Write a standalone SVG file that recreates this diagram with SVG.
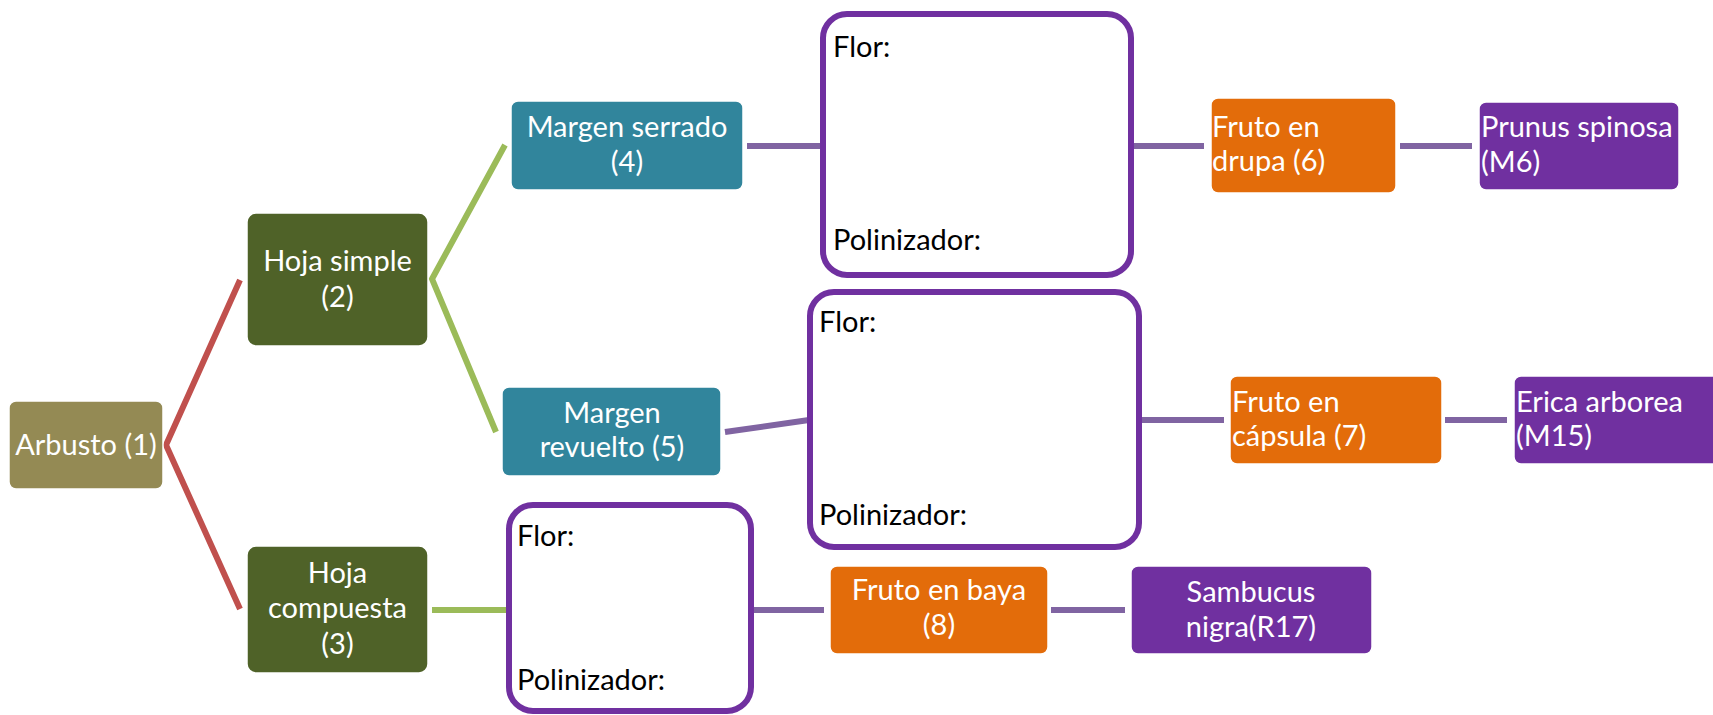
<svg xmlns="http://www.w3.org/2000/svg" width="1713" height="715" viewBox="0 0 1713 715">
<style>
.n{stroke:#ffffff;stroke-width:1.5}
.t{font-family:Lato,"Liberation Sans",sans-serif;font-size:29px;fill:#ffffff}
.c{text-anchor:middle}
.k{font-family:Lato,"Liberation Sans",sans-serif;font-size:29px;fill:#000000}
.ob{fill:#ffffff;stroke:#7030A0;stroke-width:6}
.red{stroke:#C0504D;stroke-width:6;fill:none}
.grn{stroke:#9BBB59;stroke-width:6;fill:none}
.pur{stroke:#8064A2;stroke-width:6;fill:none}
</style>
<rect width="1713" height="715" fill="#ffffff"/>
<g id="connectors">
<polyline class="red" points="240,280 166,445 240,609"/>
<polyline class="grn" points="505,145 432,279 496,432"/>
<line class="grn" x1="432" y1="610" x2="508" y2="610"/>
<line class="pur" x1="747" y1="146" x2="822" y2="146"/>
<line class="pur" x1="1132" y1="146" x2="1204" y2="146"/>
<line class="pur" x1="1400" y1="146" x2="1472" y2="146"/>
<line class="pur" x1="725" y1="432" x2="809" y2="420"/>
<line class="pur" x1="1140" y1="420" x2="1224" y2="420"/>
<line class="pur" x1="1445" y1="420" x2="1507" y2="420"/>
<line class="pur" x1="751" y1="610" x2="824" y2="610"/>
<line class="pur" x1="1051" y1="610" x2="1125" y2="610"/>
</g>
<g id="n1"><rect class="n" x="9" y="401" width="154" height="88" rx="7" fill="#948A54"/><text class="t c" x="86" y="455">Arbusto (1)</text></g>
<g id="n2"><rect class="n" x="247" y="213" width="181" height="133" rx="9" fill="#4F6228"/><text class="t c" x="337.5" y="271">Hoja simple</text><text class="t c" x="337.5" y="307">(2)</text></g>
<g id="n3"><rect class="n" x="247" y="546" width="181" height="127" rx="9" fill="#4F6228"/><text class="t c" x="337.5" y="583">Hoja</text><text class="t c" x="337.5" y="618">compuesta</text><text class="t c" x="337.5" y="654">(3)</text></g>
<g id="n4"><rect class="n" x="511" y="101" width="232" height="89" rx="7" fill="#31859C"/><text class="t c" x="627" y="137">Margen serrado</text><text class="t c" x="627" y="172">(4)</text></g>
<g id="n5"><rect class="n" x="502" y="387" width="219" height="89" rx="7" fill="#31859C"/><text class="t c" x="612" y="423">Margen</text><text class="t c" x="612" y="457">revuelto (5)</text></g>
<g id="box1"><rect class="ob" x="823" y="14" width="308" height="261" rx="24"/><text class="k" x="833" y="57">Flor:</text><text class="k" x="833" y="250">Polinizador:</text></g>
<g id="box2"><rect class="ob" x="810" y="292" width="329" height="255" rx="24"/><text class="k" x="819" y="332">Flor:</text><text class="k" x="819" y="525">Polinizador:</text></g>
<g id="box3"><rect class="ob" x="509" y="505" width="242" height="206" rx="24"/><text class="k" x="517" y="546">Flor:</text><text class="k" x="517" y="690">Polinizador:</text></g>
<g id="n6"><rect class="n" x="1211" y="98" width="185" height="95" rx="7" fill="#E36C0A"/><text class="t" x="1212" y="137">Fruto en</text><text class="t" x="1212" y="171">drupa (6)</text></g>
<g id="n7"><rect class="n" x="1230" y="376" width="212" height="88" rx="7" fill="#E36C0A"/><text class="t" x="1232" y="412">Fruto en</text><text class="t" x="1232" y="446">cápsula (7)</text></g>
<g id="n8"><rect class="n" x="830" y="566" width="218" height="88" rx="7" fill="#E36C0A"/><text class="t c" x="939" y="600">Fruto en baya</text><text class="t c" x="939" y="635">(8)</text></g>
<g id="m6"><rect class="n" x="1479" y="102" width="200" height="88" rx="7" fill="#7030A0"/><text class="t" x="1481" y="137">Prunus spinosa</text><text class="t" x="1481" y="172">(M6)</text></g>
<g id="m15"><rect class="n" x="1514" y="376" width="210" height="88" rx="7" fill="#7030A0"/><text class="t" x="1516" y="412">Erica arborea</text><text class="t" x="1516" y="446">(M15)</text></g>
<g id="r17"><rect class="n" x="1131" y="566" width="241" height="88" rx="7" fill="#7030A0"/><text class="t c" x="1251" y="602">Sambucus</text><text class="t c" x="1251" y="637">nigra(R17)</text></g>
</svg>
